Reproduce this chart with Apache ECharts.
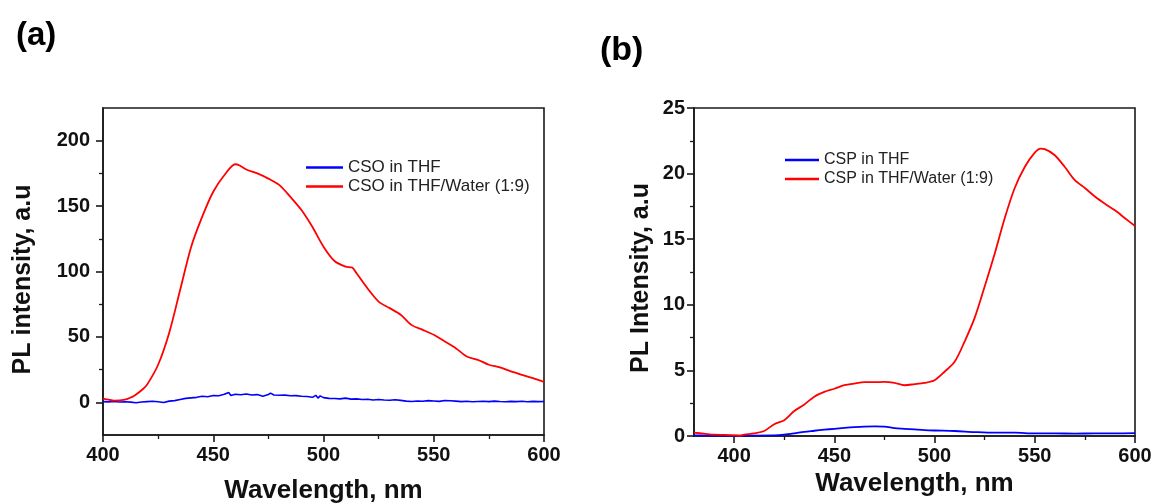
<!DOCTYPE html>
<html>
<head>
<meta charset="utf-8">
<script src="https://cdn.jsdelivr.net/npm/echarts@6/dist/echarts.min.js"></script>
<style>html,body{margin:0;padding:0;background:#fff;}#c{width:1153px;height:504px;}</style>
</head>
<body>
<div id="c"></div>
<script>
// Panel (a): CSO
const redAx = [400,402.5,405,410,413,415,418,420,425,430,435,440,445,450,455,460,462,465,470,475,480,485,490,495,500,505,510,513,515,520,525,530,535,540,545,550,555,560,565,570,575,580,585,590,595,600];
const redAy = [2.8,2.0,1.3,2.0,4.0,6.0,10,13.5,28.7,53,86,119,142,161,173.6,182,181,178,175,171,166,157,147,134,119,108,103.7,103,98.6,87,77,72,67,59,55.4,51.6,46.5,41.4,35,32.5,28.7,26.7,23.6,21,18.5,15.5];
const blueAx = [400,402.5,405,407.5,410,412.5,415,417.5,420,422.5,425,427.5,430,432.5,435,437.5,440,442.5,445,447.5,450,452.5,455,457,458,460,462.5,465,467.5,470,472.5,475,476,477.5,480,482.5,485,487.5,490,492.5,495,496.5,497.5,498.5,500,502.5,505,507.5,510,512.5,515,517.5,520,522.5,525,527.5,530,532.5,535,537.5,540,542.5,545,547.5,550,552.5,555,557.5,560,562.5,565,567.5,570,572.5,575,577.5,580,582.5,585,587.5,590,592.5,595,597.5,600];
const blueAy = [0.5,0.3,0.6,0.2,0.4,0.1,-0.3,0.2,0.5,0.8,0.4,-0.2,0.9,1.3,2.2,3.0,3.4,3.8,4.6,4.3,5.2,5.0,6.1,7.5,5.2,6.2,5.8,6.4,5.6,5.9,4.7,6.0,7.0,5.6,5.4,5.5,5.0,5.1,4.6,4.4,3.8,5.3,3.2,4.9,3.6,3.0,2.9,2.6,3.2,2.4,2.6,2.1,2.3,1.7,2.1,1.8,1.6,2.0,1.5,0.9,0.6,1.0,0.8,1.3,1.0,0.7,1.4,1.2,0.9,0.5,0.8,0.4,0.6,0.8,0.5,0.9,0.6,0.4,0.7,0.5,0.8,0.4,0.7,0.5,0.6];
const yTicksA = [0,50,100,150,200];
const yMinorA = [25,75,125,175];

// Panel (b): CSP
const redBx = [380,385,390,395,400,403,405,410,415,420,425,430,435,440,445,450,455,460,465,470,475,480,485,490,495,500,505,510,515,520,525,530,535,540,545,550,553,555,560,565,570,575,580,585,590,595,600];
const redBy = [0.25,0.18,0.1,0.08,0.05,0.02,0.1,0.2,0.38,0.9,1.2,1.9,2.4,3.0,3.36,3.6,3.87,4.0,4.1,4.1,4.12,4.05,3.87,3.95,4.05,4.25,4.9,5.65,7.2,9.0,11.4,13.9,16.6,18.9,20.5,21.6,21.9,21.87,21.4,20.5,19.5,18.9,18.25,17.7,17.2,16.6,16.0];
const blueBx = [380,400,420,425,430,435,440,445,450,455,460,465,470,475,480,485,490,495,500,510,520,530,540,550,560,570,580,590,600];
const blueBy = [0.05,0.02,0.05,0.1,0.2,0.32,0.4,0.48,0.55,0.62,0.68,0.72,0.73,0.72,0.6,0.55,0.5,0.45,0.42,0.38,0.3,0.25,0.25,0.2,0.2,0.18,0.2,0.2,0.22];
const xTicksB = [400,450,500,550,600];
const xMinorB = [425,475,525,575];

const namesA = ['CSO in THF','CSO in THF/Water (1:9)'];
const namesB = ['CSP in THF','CSP in THF/Water (1:9)'];

const zip = (xs, ys) => xs.map((x, i) => [x, ys[i]]);
const INK = '#1a1a1a';
const FONT = '"Liberation Sans", Arial, sans-serif';
const lbl = {color:'#111', fontFamily:FONT, fontWeight:'bold', fontSize:20};
const nameStyle = {color:'#111', fontFamily:FONT, fontWeight:'bold', fontSize:26};
const axLine = {show:true, onZero:false, lineStyle:{color:INK, width:1.6}};
const tickMaj = {show:true, length:7, lineStyle:{color:INK, width:1.6}};
const tickMin = {show:true, length:4, lineStyle:{color:INK, width:1.3}};

const chart = echarts.init(document.getElementById('c'), null, {renderer:'canvas'});
chart.setOption({
  backgroundColor:'#fff',
  animation:false,
  title:[
    {text:'(a)', left:11, top:14, textStyle:{fontFamily:FONT, fontWeight:'bold', fontSize:33, color:'#000'}},
    {text:'(b)', left:595, top:29, textStyle:{fontFamily:FONT, fontWeight:'bold', fontSize:34, color:'#000'}}
  ],
  legend:[
    {data:namesA, orient:'vertical', left:301, top:154, itemWidth:37, itemHeight:2.5, itemGap:2, icon:'rect',
     textStyle:{fontFamily:FONT, fontSize:17, color:'#222', lineHeight:17}},
    {data:namesB, orient:'vertical', left:780, top:147, itemWidth:34, itemHeight:2.5, itemGap:3, icon:'rect',
     textStyle:{fontFamily:FONT, fontSize:16, color:'#222', lineHeight:16}}
  ],
  grid:[
    {left:103, right:609, top:108, bottom:69, outerBoundsMode:'none', containLabel:false, show:true, borderColor:INK, borderWidth:1.6, backgroundColor:'transparent'},
    {left:694, right:18, top:108, bottom:68, outerBoundsMode:'none', containLabel:false, show:true, borderColor:INK, borderWidth:1.6, backgroundColor:'transparent'}
  ],
  xAxis:[
    {type:'value', gridIndex:0, min:400, max:600, interval:50, axisLine:axLine, axisTick:tickMaj,
     minorTick:{show:true, splitNumber:2, length:4, lineStyle:{color:INK, width:1.3}},
     splitLine:{show:false}, axisLabel:Object.assign({margin:10}, lbl),
     name:'Wavelength, nm', nameLocation:'middle', nameGap:43, nameTextStyle:nameStyle},
    {type:'value', gridIndex:1, min:380, max:600, interval:20, axisLine:axLine,
     axisTick:Object.assign({customValues:xTicksB}, tickMaj),
     splitLine:{show:false}, axisLabel:Object.assign({margin:10, customValues:xTicksB}, lbl),
     name:'Wavelength, nm', nameLocation:'middle', nameGap:34, nameTextStyle:nameStyle},
    {type:'value', gridIndex:1, min:380, max:600, interval:20, position:'bottom', axisLine:{show:false, onZero:false},
     axisTick:Object.assign({customValues:xMinorB}, tickMin), axisLabel:{show:false}, splitLine:{show:false}}
  ],
  yAxis:[
    {type:'value', gridIndex:0, min:-25, max:225, interval:25, axisLine:axLine,
     axisTick:Object.assign({customValues:yTicksA}, tickMaj),
     splitLine:{show:false}, axisLabel:Object.assign({margin:13, customValues:yTicksA}, lbl),
     name:'PL intensity, a.u', nameLocation:'middle', nameGap:67,
     nameTextStyle:Object.assign({padding:[0,16,0,0]}, nameStyle, {fontSize:25})},
    {type:'value', gridIndex:1, min:0, max:25, interval:5, axisLine:axLine, axisTick:tickMaj,
     minorTick:{show:true, splitNumber:2, length:4, lineStyle:{color:INK, width:1.3}},
     splitLine:{show:false}, axisLabel:Object.assign({margin:9}, lbl),
     name:'PL Intensity, a.u', nameLocation:'middle', nameGap:40,
     nameTextStyle:Object.assign({padding:[0,12,0,0]}, nameStyle, {fontSize:25})},
    {type:'value', gridIndex:0, min:-25, max:225, interval:25, position:'left', axisLine:{show:false, onZero:false},
     axisTick:Object.assign({customValues:yMinorA}, tickMin), axisLabel:{show:false}, splitLine:{show:false}}
  ],
  series:[
    {name:namesA[0], type:'line', xAxisIndex:0, yAxisIndex:0, data:zip(blueAx, blueAy), showSymbol:false,
     lineStyle:{color:'#0000ff', width:1.6}, itemStyle:{color:'#0000ff'}},
    {name:namesA[1], type:'line', xAxisIndex:0, yAxisIndex:0, data:zip(redAx, redAy), showSymbol:false, smooth:0.3,
     lineStyle:{color:'#ff0000', width:1.8}, itemStyle:{color:'#ff0000'}},
    {name:namesB[0], type:'line', xAxisIndex:1, yAxisIndex:1, data:zip(blueBx, blueBy), showSymbol:false, smooth:0.3,
     lineStyle:{color:'#0000ff', width:1.8}, itemStyle:{color:'#0000ff'}},
    {name:namesB[1], type:'line', xAxisIndex:1, yAxisIndex:1, data:zip(redBx, redBy), showSymbol:false, smooth:0.3,
     lineStyle:{color:'#ff0000', width:1.8}, itemStyle:{color:'#ff0000'}}
  ]
});
</script>
</body>
</html>
